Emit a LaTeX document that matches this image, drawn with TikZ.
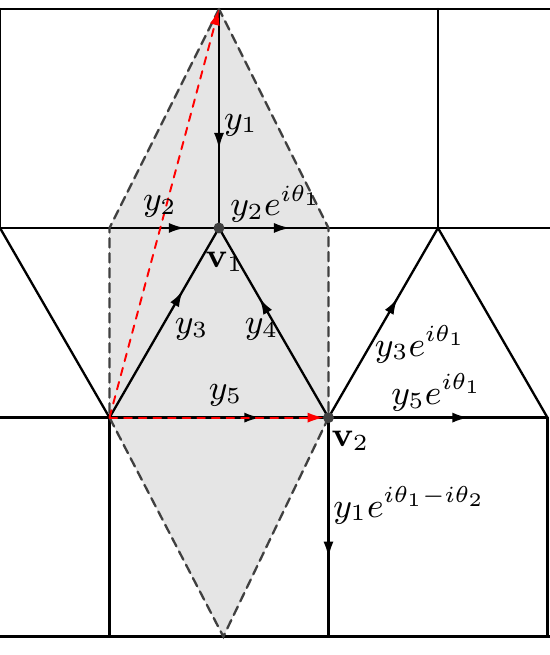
\documentclass[tikz,border=0pt]{standalone}
\usetikzlibrary{arrows.meta,decorations.markings,positioning}

\begin{document}
\begin{tikzpicture}[
  font=\fontsize{8.6}{10}\selectfont,
  line width=0.6pt, line cap=round,
  >={Latex[length=4.2pt,width=2.6pt]},
  midarrow/.style={postaction={decorate},
    decoration={markings,mark=at position #1 with {\arrow{>}}}},
  midarrow/.default=0.66,
  bound/.style={black!75, dash pattern=on 2.4pt off 1.5pt},
  period/.style={red, line width=0.5pt, dash pattern=on 2pt off 1.8pt},
  vertex/.style={circle, fill=black!75, inner sep=0pt, minimum size=1mm}
]
\useasboundingbox (-2,-3.9) rectangle (3.023,2.082);

% lattice points
\coordinate (tl) at (-2,2);
\coordinate (t0) at (0,2);
\coordinate (t2) at (2,2);
\coordinate (tr) at (3.03,2);
\coordinate (ml) at (-2,0);
\coordinate (a) at (-1,0);
\coordinate (v1) at (0,0);
\coordinate (b) at (1,0);
\coordinate (c) at (2,0);
\coordinate (mr) at (3.03,0);
\coordinate (ll) at (-2,-1.732);
\coordinate (p) at (-1,-1.732);
\coordinate (v2) at (1,-1.732);
\coordinate (q) at (3,-1.732);
\coordinate (bl) at (-2,-3.732);
\coordinate (bp) at (-1,-3.732);
\coordinate (bo) at (0.04,-3.732);
\coordinate (bv) at (1,-3.732);
\coordinate (bq) at (3,-3.732);
\coordinate (br) at (3.03,-3.732);

% fundamental domain
\fill[black!10] (t0) -- (a) -- (p) -- (bo) -- (v2) -- (b) -- cycle;

% squares and triangles
\draw (tl) -- (tr);
\draw (tl) -- (ml);
\draw (t2) -- (c);
\draw (ml) -- (a);
\draw (b) -- (mr);
\draw (ml) -- (p);
\draw (c) -- (q);
\draw (ll) -- (p);
\draw (p) -- (bp);
\draw (q) -- (bq);
\draw (bl) -- (br);

% oriented edges
\draw[midarrow=0.64] (t0) -- (v1);
\draw[midarrow=0.69] (a) -- (v1);
\draw[midarrow=0.65] (v1) -- (b);
\draw[midarrow=0.67] (p) -- (v1);
\draw[midarrow=0.63] (v2) -- (v1);
\draw[midarrow=0.69] (p) -- (v2);
\draw[midarrow=0.63] (v2) -- (c);
\draw[midarrow=0.64] (v2) -- (q);
\draw[midarrow=0.64] (v2) -- (bv);

\draw[bound] (t0) -- (a) -- (p) -- (bo) -- (v2) -- (b) -- cycle;

% periods
\draw[period,->] (p) -- (t0);
\draw[period,->,shorten >=1.2pt] (p) -- (v2);

\node[vertex] (dot1) at (v1) {};
\node[vertex] (dot2) at (v2) {};

\node (ly1) at (0.2,0.94) {$y_1$};
\node (ly2) at (-0.54,0.2) {$y_2$};
\node (ly2e) at (0.52,0.22) {$y_2e^{i\theta_1}$};
\node (lv1) at (0.05,-0.31) {$\mathbf{v}_1$};
\node (ly3) at (-0.25,-0.93) {$y_3$};
\node (ly4) at (0.39,-0.93) {$y_4$};
\node (ly5) at (0.06,-1.53) {$y_5$};
\node (ly3e) at (1.84,-1.06) {$y_3e^{i\theta_1}$};
\node (ly5e) at (1.99,-1.5) {$y_5e^{i\theta_1}$};
\node (lv2) at (1.2,-1.94) {$\mathbf{v}_2$};
\node (ly1e) at (1.74,-2.53) {$y_1e^{i\theta_1-i\theta_2}$};
\end{tikzpicture}
\end{document}
